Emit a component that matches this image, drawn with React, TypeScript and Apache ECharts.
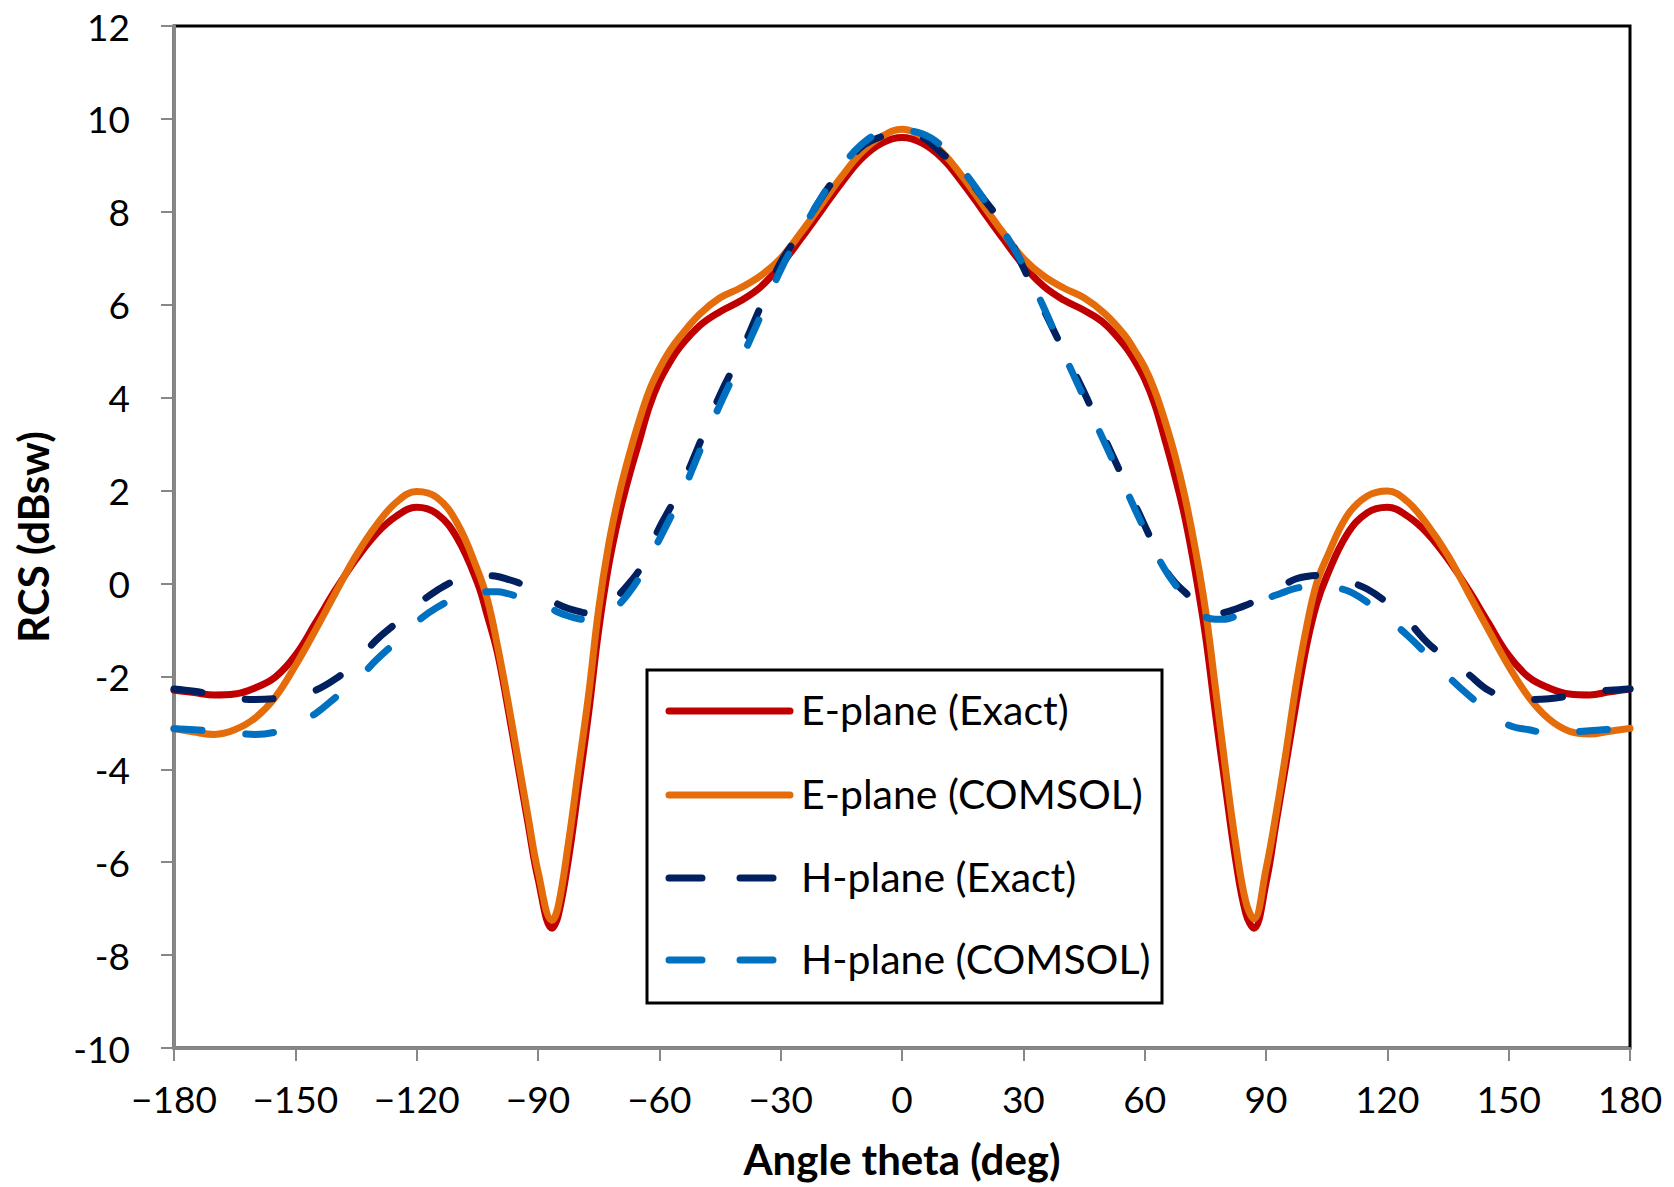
import React, { useEffect, useRef } from "react";
import * as echarts from "echarts";

const theta = [-180,-175,-170,-165,-160,-155,-150,-145,-140,-135,-130,-125,-120,-115,-110,-105,
  -102.5,-100,-97.5,-95,-92.5,-90,-86.5,-85,-82.5,-80,-77.5,-75,-72.5,-70,-67.5,-65,-62.5,-60,-57.5,-55,
  -50,-45,-40,-35,-30,-25,-20,-15,-10,-5,0,5,10,15,20,25,30,35,40,45,50,
  55,57.5,60,62.5,65,67.5,70,72.5,75,77.5,80,82.5,85,87,90,92.5,95,97.5,100,102.5,
  105,110,115,120,125,130,135,140,145,150,155,160,165,170,175,180];

const ePlaneExact = [-2.30,-2.35,-2.40,-2.38,-2.25,-2.02,-1.55,-0.85,-0.13,0.52,1.07,1.45,1.64,1.50,0.98,0.02,
  -0.70,-1.50,-2.65,-3.90,-5.15,-6.35,-7.42,-7.15,-5.95,-4.40,-2.80,-1.00,0.40,1.45,2.30,3.05,3.80,4.35,4.75,5.08,
  5.55,5.85,6.08,6.38,6.85,7.42,8.02,8.62,9.15,9.48,9.60,9.48,9.15,8.62,8.02,7.42,6.85,6.40,6.10,5.88,5.60,
  5.12,4.80,4.40,3.85,3.10,2.30,1.40,0.25,-1.10,-2.80,-4.40,-5.95,-7.10,-7.42,-6.45,-5.15,-3.85,-2.55,-1.35,-0.45,
  0.15,1.05,1.52,1.64,1.45,1.07,0.52,-0.13,-0.85,-1.55,-2.02,-2.25,-2.38,-2.40,-2.33,-2.27];

const ePlaneComsol = [-3.12,-3.20,-3.25,-3.15,-2.90,-2.45,-1.77,-1.00,-0.19,0.60,1.25,1.75,1.98,1.85,1.30,0.30,
  -0.35,-1.35,-2.50,-3.75,-5.00,-6.20,-7.25,-6.95,-5.60,-4.00,-2.40,-0.55,0.85,1.90,2.75,3.50,4.15,4.62,5.00,5.30,
  5.80,6.15,6.36,6.62,7.00,7.55,8.15,8.75,9.28,9.62,9.78,9.62,9.28,8.75,8.15,7.55,7.00,6.62,6.36,6.15,5.82,
  5.35,5.02,4.65,4.15,3.50,2.75,1.85,0.75,-0.55,-2.25,-4.00,-5.60,-6.85,-7.22,-6.15,-4.95,-3.60,-2.15,-0.95,0.00,
  0.55,1.45,1.88,1.99,1.76,1.25,0.60,-0.20,-1.00,-1.78,-2.45,-2.92,-3.18,-3.24,-3.18,-3.12];

const hPlaneExact = [-2.27,-2.32,-2.40,-2.47,-2.50,-2.48,-2.42,-2.30,-2.05,-1.70,-1.22,-0.85,-0.47,-0.15,0.08,0.18,
  0.17,0.15,0.09,0.02,-0.08,-0.18,-0.37,-0.45,-0.54,-0.60,-0.64,-0.63,-0.48,-0.25,0.00,0.28,0.72,1.20,1.60,2.00,
  3.02,4.06,4.95,5.95,6.91,7.57,8.29,8.90,9.40,9.62,9.68,9.60,9.25,8.85,8.30,7.70,6.80,5.90,5.00,4.12,3.15,
  2.20,1.72,1.25,0.78,0.32,0.02,-0.19,-0.42,-0.58,-0.64,-0.62,-0.55,-0.47,-0.39,-0.26,-0.12,0.00,0.10,0.15,0.17,
  0.17,0.05,-0.12,-0.42,-0.80,-1.28,-1.63,-1.95,-2.30,-2.45,-2.50,-2.48,-2.42,-2.34,-2.30,-2.27];

const hPlaneComsol = [-3.13,-3.15,-3.18,-3.22,-3.25,-3.20,-3.05,-2.80,-2.45,-2.10,-1.65,-1.25,-0.83,-0.52,-0.30,-0.20,
  -0.18,-0.18,-0.22,-0.28,-0.33,-0.40,-0.55,-0.62,-0.70,-0.76,-0.78,-0.72,-0.60,-0.45,-0.20,0.12,0.52,0.95,1.38,1.80,
  2.85,3.85,4.78,5.75,6.75,7.55,8.30,8.95,9.45,9.70,9.74,9.68,9.40,8.90,8.30,7.60,6.85,5.95,4.95,4.00,3.05,
  2.10,1.62,1.15,0.70,0.30,-0.02,-0.30,-0.55,-0.72,-0.77,-0.77,-0.70,-0.58,-0.47,-0.33,-0.25,-0.17,-0.10,-0.07,-0.06,
  -0.08,-0.15,-0.40,-0.75,-1.12,-1.55,-2.00,-2.40,-2.75,-3.05,-3.15,-3.22,-3.20,-3.17,-3.14,-3.12];

const seriesNames = ["E-plane (Exact)", "E-plane (COMSOL)", "H-plane (Exact)", "H-plane (COMSOL)"];
const seriesColors = ["#C00000", "#E46C0A", "#002060", "#0070C0"];
const seriesData = [ePlaneExact, ePlaneComsol, hPlaneExact, hPlaneComsol];
const seriesDashed = [false, false, true, true];

const xTicks = { min: -180, max: 180, interval: 30 };
const yTicks = { min: -10, max: 12, interval: 2 };

const FONT = "Lato";

export default function App() {
  const ref = useRef<HTMLDivElement>(null);
  useEffect(() => {
    if (!ref.current) return;
    const chart = echarts.init(ref.current, undefined, { renderer: "svg" });
    const rowsY = [711, 795, 878, 960];
    const legendChildren: any[] = [
      {
        type: "rect",
        shape: { x: 647, y: 670, width: 515, height: 333 },
        style: { fill: "#fff", stroke: "#000", lineWidth: 3 },
      },
    ];
    seriesNames.forEach((name, i) => {
      legendChildren.push({
        type: "line",
        shape: { x1: 669, y1: rowsY[i], x2: seriesDashed[i] ? 780 : 790, y2: rowsY[i] },
        style: {
          stroke: seriesColors[i],
          lineWidth: 7,
          lineCap: "round",
          lineDash: seriesDashed[i] ? [33, 38] : null,
        },
      });
      legendChildren.push({
        type: "text",
        x: 801,
        y: rowsY[i] - 2,
        style: {
          text: name,
          fontFamily: FONT,
          fontSize: 41,
          fill: "#000",
          align: "left",
          verticalAlign: "middle",
        },
      });
    });

    chart.setOption({
      animation: false,
      backgroundColor: "#fff",
      textStyle: { fontFamily: FONT },
      grid: {
        left: 174,
        right: 44,
        top: 26,
        bottom: 139,
        show: true,
        borderColor: "#000",
        borderWidth: 3,
        containLabel: false,
      },
      xAxis: {
        type: "value",
        min: xTicks.min,
        max: xTicks.max,
        interval: xTicks.interval,
        name: "Angle theta (deg)",
        nameLocation: "middle",
        nameGap: 90,
        nameTextStyle: { fontFamily: FONT, fontWeight: "bold", fontSize: 42, color: "#000" },
        axisLine: { show: true, onZero: false, lineStyle: { color: "#878787", width: 3 } },
        axisTick: { show: true, inside: false, length: 13, lineStyle: { color: "#878787", width: 2 } },
        axisLabel: {
          fontFamily: FONT,
          fontSize: 37,
          color: "#000",
          margin: 32,
          formatter: (v: number) => (v < 0 ? "\u2212" + Math.abs(v) : String(v)),
        },
        splitLine: { show: false },
      },
      yAxis: {
        type: "value",
        min: yTicks.min,
        max: yTicks.max,
        interval: yTicks.interval,
        name: "RCS (dBsw)",
        nameLocation: "middle",
        nameGap: 120,
        nameRotate: 90,
        nameTextStyle: { fontFamily: FONT, fontWeight: "bold", fontSize: 42, color: "#000" },
        axisLine: { show: true, onZero: false, lineStyle: { color: "#878787", width: 3 } },
        axisTick: { show: true, inside: false, length: 13, lineStyle: { color: "#878787", width: 2 } },
        axisLabel: { fontFamily: FONT, fontSize: 37, color: "#000", margin: 44 },
        splitLine: { show: false },
      },
      series: seriesNames.map((name, i) => ({
        name,
        type: "line",
        data: theta.map((t, k) => [t, seriesData[i][k]]),
        showSymbol: false,
        symbol: "none",
        smooth: 0.4,
        clip: false,
        lineStyle: {
          color: seriesColors[i],
          width: 7,
          type: seriesDashed[i] ? [28, 44] : "solid",
          cap: "round",
          join: "round",
        },
        z: 2 + i,
      })),
      graphic: [{ type: "group", z: 100, children: legendChildren }],
    });
    return () => chart.dispose();
  }, []);
  return (
    <div
      ref={ref}
      style={{ position: "absolute", left: 0, top: 0, width: 1674, height: 1187 }}
    />
  );
}
